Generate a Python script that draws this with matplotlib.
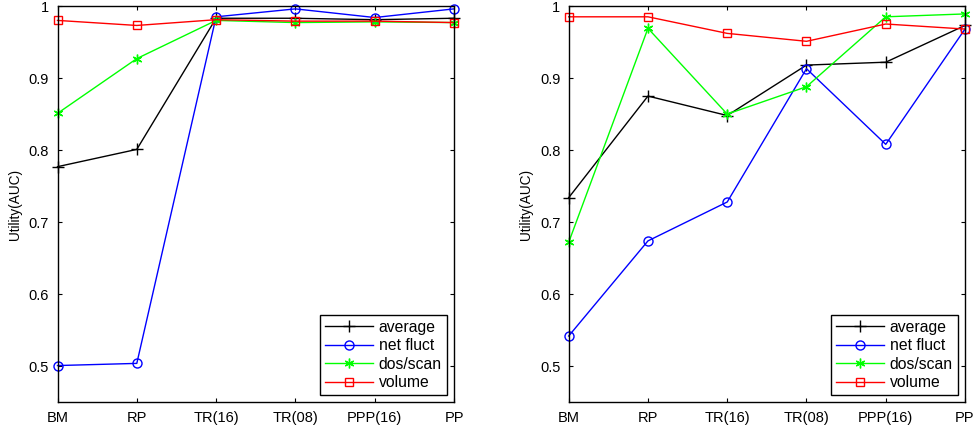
import matplotlib
matplotlib.use("Agg")
import matplotlib.pyplot as plt

plt.rcParams['font.family'] = ['Liberation Sans', 'DejaVu Sans']

categories = ["BM", "RP", "TR(16)", "TR(08)", "PPP(16)", "PP"]
series_names = ["average", "net fluct", "dos/scan", "volume"]

left_average = [0.777, 0.801, 0.983, 0.983, 0.981, 0.983]
left_netfluct = [0.501, 0.504, 0.985, 0.996, 0.984, 0.996]
left_dosscan = [0.851, 0.927, 0.980, 0.977, 0.978, 0.977]
left_volume = [0.980, 0.973, 0.981, 0.979, 0.979, 0.977]

right_average = [0.734, 0.875, 0.848, 0.918, 0.922, 0.973]
right_netfluct = [0.542, 0.674, 0.728, 0.913, 0.808, 0.968]
right_dosscan = [0.672, 0.969, 0.850, 0.888, 0.985, 0.989]
right_volume = [0.985, 0.985, 0.962, 0.951, 0.975, 0.968]

yticks = [0.5, 0.6, 0.7, 0.8, 0.9, 1.0]
ytick_labels = ["0.5", "0.6", "0.7", "0.8", "0.9", "1"]

asterisk = (6, 2, 0)
styles = [
    dict(color=(0, 0, 0), marker='+', ms=8, mew=1.0),
    dict(color=(0, 0, 1), marker='o', ms=6.5, mfc='none', mew=1.0),
    dict(color=(0, 1, 0), marker=asterisk, ms=7, mew=1.0),
    dict(color=(1, 0, 0), marker='s', ms=5.5, mfc='none', mew=1.0),
]

fig = plt.figure(figsize=(9.75, 4.3), dpi=100)
ax1 = fig.add_axes([57.5 / 975, 1 - 402.3 / 430, (454 - 57.5) / 975, (402.3 - 6) / 430])
ax2 = fig.add_axes([568.7 / 975, 1 - 402.3 / 430, (965 - 568.7) / 975, (402.3 - 6) / 430])

x = list(range(1, len(categories) + 1))
for ax, data in [(ax1, [left_average, left_netfluct, left_dosscan, left_volume]),
                 (ax2, [right_average, right_netfluct, right_dosscan, right_volume])]:
    for vals, name, st in zip(data, series_names, styles):
        ax.plot(x, vals, lw=1.0, label=name, clip_on=False, **st)
    ax.set_xlim(1, 6)
    ax.set_ylim(0.45, 1.0)
    ax.set_xticks(x)
    ax.set_xticklabels(categories, fontsize=10.5)
    ax.set_yticks(yticks)
    ax.set_yticklabels(ytick_labels, fontsize=10.5)
    ax.tick_params(direction='in', top=True, right=True, length=3, width=0.8, pad=6)
    ax.set_ylabel("Utility(AUC)", fontsize=9.8, labelpad=5)
    for sp in ax.spines.values():
        sp.set_linewidth(1.0)
    leg = ax.legend(loc='lower right', fontsize=11.3, fancybox=False, framealpha=1,
                    edgecolor='black', borderpad=0.32, labelspacing=0.22,
                    handlelength=3.1, handletextpad=0.35, borderaxespad=0.45)
    leg.get_frame().set_linewidth(1.0)

fig.savefig("out.png", dpi=100)
